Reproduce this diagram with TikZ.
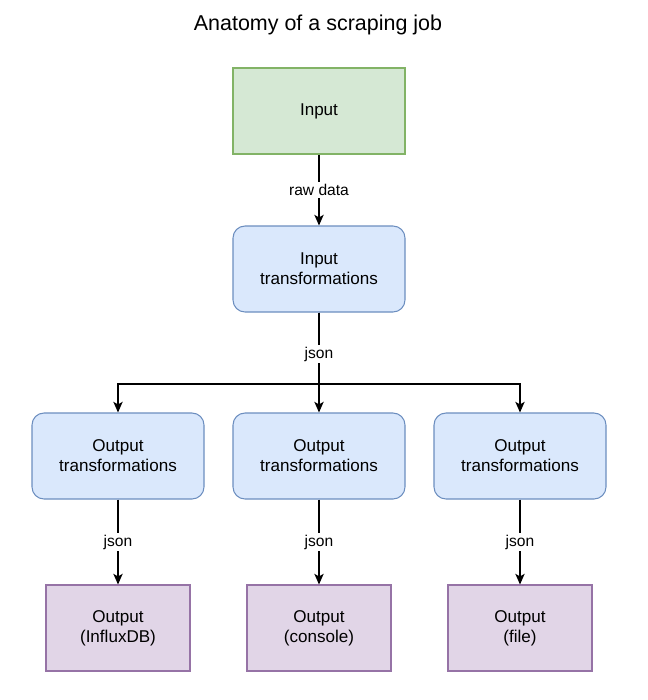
\documentclass[tikz,border=0pt]{standalone}
\usepackage{fontspec}
\setmainfont{Liberation Sans}
\usetikzlibrary{arrows.meta}
\definecolor{greenfill}{HTML}{D5E8D4}
\definecolor{greenline}{HTML}{82B366}
\definecolor{bluefill}{HTML}{DAE8FC}
\definecolor{blueline}{HTML}{6C8EBF}
\definecolor{purplefill}{HTML}{E1D5E7}
\definecolor{purpleline}{HTML}{9673A6}
\begin{document}
\begin{tikzpicture}[x=0.75pt,y=-0.75pt,
    box/.style={draw,line width=0.8pt,align=center,inner sep=0pt,
      font=\fontsize{12.8}{15}\selectfont,minimum height=64.5pt},
    inbox/.style={box,fill=greenfill,draw=greenline,minimum width=129pt},
    trbox/.style={box,fill=bluefill,draw=blueline,minimum width=129pt,rounded corners=9pt},
    outbox/.style={box,fill=purplefill,draw=purpleline,minimum width=108pt},
    lbl/.style={fill=white,inner sep=1.5pt,font=\fontsize{11.7}{13}\selectfont},
    edge/.style={line width=0.9pt,-{Stealth[length=8pt,width=7pt,inset=2pt]}}]
      \useasboundingbox (0,0) rectangle (647,700);
      \draw
        (318,25) node[font=\fontsize{16.1}{19}\selectfont] (title){Anatomy of a scraping job}
        (319,111) node[inbox] (in){Input}
        (319,269) node[trbox] (it){Input\\transformations}
        (118,456) node[trbox] (ot1){Output\\transformations}
        (319,456) node[trbox] (ot2){Output\\transformations}
        (520,456) node[trbox] (ot3){Output\\transformations}
        (118,628) node[outbox] (out1){Output\\(InfluxDB)}
        (319,628) node[outbox] (out2){Output\\(console)}
        (520,628) node[outbox] (out3){Output\\(file)};
      \coordinate (j) at (319,384);
      \begin{scope}[edge]
        \draw (in) to node[lbl] {raw data} (it);
        \draw (it) -- (ot2);
        \draw (it) -- (j) -| (ot1);
        \draw (it) -- (j) -| (ot3);
        \draw (ot1) to node[lbl] {json} (out1);
        \draw (ot2) to node[lbl] {json} (out2);
        \draw (ot3) to node[lbl] {json} (out3);
      \end{scope}
      \node[lbl] (jl) at (319,354) {json};
    \end{tikzpicture}
\end{document}
